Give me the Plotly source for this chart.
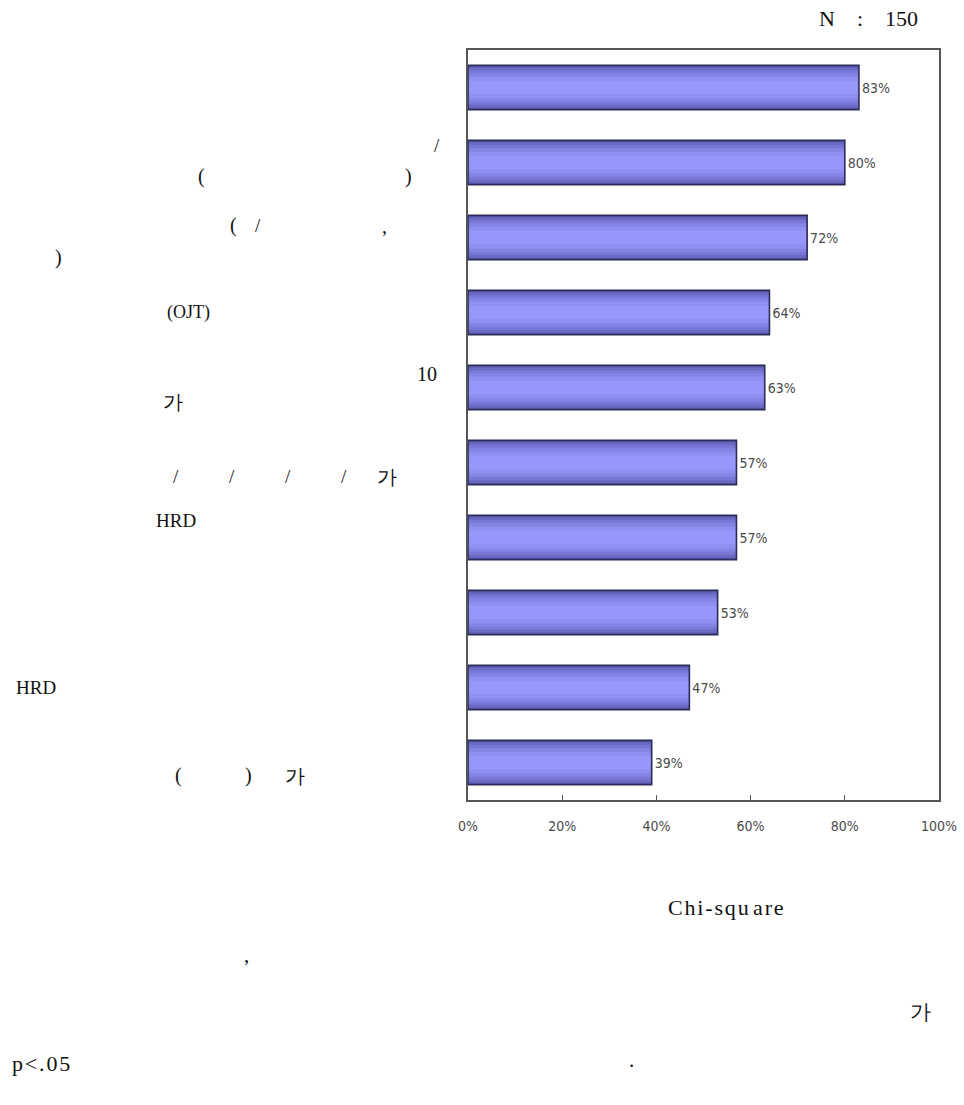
import plotly.graph_objects as go

# ---- data ----
categories = ["c1", "c2", "c3", "c4", "c5", "c6", "c7", "c8", "c9", "c10"]
values = [83, 80, 72, 64, 63, 57, 57, 53, 47, 39]
value_labels = ["83%", "80%", "72%", "64%", "63%", "57%", "57%", "53%", "47%", "39%"]
x_ticks = [0, 20, 40, 60, 80, 100]
x_tick_labels = ["0%", "20%", "40%", "60%", "80%", "100%"]

# visible label fragments (text only)
label_fragments = [
    [],
    ["/", "(", ")"],
    ["(", "/", ",", ")"],
    ["(OJT)"],
    ["10", "가"],
    ["/", "/", "/", "/", "가"],
    ["HRD"],
    [],
    ["HRD"],
    ["(", ")", "가"],
]
# layout placement of those fragments: (x pixel center, y pixel offset from bar centre, font size)
fragment_places = [
    [],
    [(437, -17, 19), (201, 14, 20), (408, 14, 20)],
    [(233, -12, 20), (258, -12, 19), (384, -12, 20), (58, 20, 20)],
    [(188, 0, 18)],
    [(427, -14, 20), (173, 14, 20)],
    [(176, 14, 19), (232, 14, 19), (288, 14, 19), (344, 14, 19), (387, 14, 20)],
    [(176, -17, 19)],
    [],
    [(36, 0, 19)],
    [(178, 13, 20), (248, 13, 20), (295, 13, 20)],
]

W, H = 964, 1105
L, R, T, B = 468, 939, 50, 800
PW, PH = R - L, B - T

fig = go.Figure()

# layered bars to mimic vertical gradient
layers = [
    (0.59, "#5d5db4"),
    (0.53, "#6b6bc6"),
    (0.46, "#7878d6"),
    (0.38, "#8484e4"),
    (0.29, "#8f8ff1"),
    (0.18, "#9797fb"),
]
for w, c in layers:
    fig.add_trace(go.Bar(
        x=values, y=categories, orientation="h", width=w,
        marker=dict(color=c, line=dict(width=0)),
        hoverinfo="skip", showlegend=False,
    ))
fig.add_trace(go.Bar(
    x=values, y=categories, orientation="h", width=0.59,
    marker=dict(color="rgba(0,0,0,0)", line=dict(color="#2c2c5a", width=1.6)),
    text=value_labels, textposition="outside", cliponaxis=False,
    textfont=dict(family="DejaVu Sans Condensed, DejaVu Sans, sans-serif",
                  size=14, color="#4a4a4a"),
    showlegend=False,
))

annotations = []
n = len(categories)
step = PH / n
for i, (frags, places) in enumerate(zip(label_fragments, fragment_places)):
    yc = T + step * (i + 0.5)
    for txt, (px, dy, fs) in zip(frags, places):
        annotations.append(dict(
            text=txt, xref="paper", yref="paper",
            x=(px - L) / PW, y=1 - (yc + dy - T) / PH,
            xanchor="center", yanchor="middle", showarrow=False,
            font=dict(family="Liberation Serif, Times New Roman, serif", size=fs, color="#111111"),
        ))

def px_ann(text, px, py, size=21, anchor="center"):
    annotations.append(dict(
        text=text, xref="paper", yref="paper",
        x=(px - L) / PW, y=1 - (py - T) / PH,
        xanchor=anchor, yanchor="middle", showarrow=False,
        font=dict(family="Liberation Serif, Times New Roman, serif", size=size, color="#111111"),
    ))

hs = "\u200a"
px_ann("N\u2002\u2002:\u2002\u2002150", 868, 18, 22)
px_ann(hs.join("Chi-squ") + "\u2009" + hs.join("are"), 726, 907, 22)
px_ann(",", 246, 955, 21)
px_ann("가", 920, 1012, 21)
px_ann(hs.join("p<.05"), 10, 1063, 22, anchor="left")
px_ann(".", 631, 1060, 21)

fig.update_layout(
    width=W, height=H,
    margin=dict(l=L, r=W - R, t=T, b=H - B, pad=0, autoexpand=False),
    plot_bgcolor="white", paper_bgcolor="white",
    barmode="overlay", bargap=0.41,
    annotations=annotations,
    showlegend=False,
)
fig.update_xaxes(
    range=[0, 100], tickvals=x_ticks, ticktext=x_tick_labels,
    showgrid=False, zeroline=False, automargin=False,
    showline=True, linecolor="#555555", linewidth=1.5, mirror=True,
    ticks="inside", ticklen=5, tickcolor="#555555",
    ticklabelstandoff=12,
    tickfont=dict(family="DejaVu Sans Condensed, DejaVu Sans, sans-serif",
                  size=14, color="#4a4a4a"),
    fixedrange=True,
)
fig.update_yaxes(
    categoryorder="array", categoryarray=categories[::-1],
    showticklabels=False, showgrid=False, zeroline=False, automargin=False,
    showline=True, linecolor="#555555", linewidth=1.5, mirror=True,
    ticks="", fixedrange=True,
)

fig.write_html("out.html")
